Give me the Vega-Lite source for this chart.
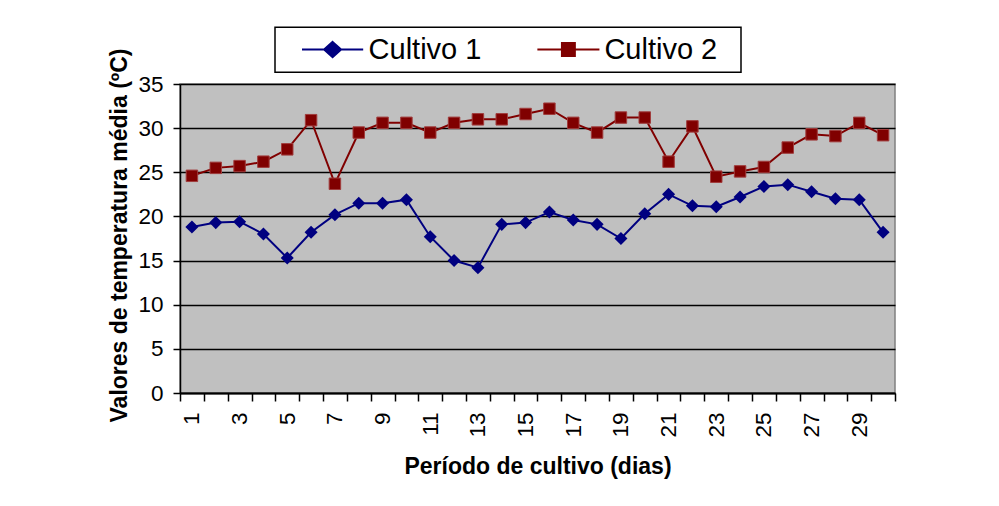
{
  "$schema": "https://vega.github.io/schema/vega-lite/v6.json",
  "width": 715,
  "height": 309,
  "autosize": {"type": "none"},
  "padding": {"left": 180, "top": 84, "right": 104, "bottom": 113},
  "background": "#ffffff",
  "config": {
    "view": {"fill": "#C0C0C0", "stroke": "#808080", "strokeWidth": 1.5},
    "font": "Liberation Sans",
    "axis": {
      "labelFont": "Liberation Sans",
      "titleFont": "Liberation Sans",
      "labelColor": "#000000",
      "titleColor": "#000000",
      "domainColor": "#000000",
      "tickColor": "#000000"
    }
  },
  "datasets": {
    "temps": [
      {"dia": 1, "serie": "Cultivo 1", "temp": 18.8},
      {"dia": 2, "serie": "Cultivo 1", "temp": 19.3},
      {"dia": 3, "serie": "Cultivo 1", "temp": 19.4},
      {"dia": 4, "serie": "Cultivo 1", "temp": 18.0},
      {"dia": 5, "serie": "Cultivo 1", "temp": 15.3},
      {"dia": 6, "serie": "Cultivo 1", "temp": 18.2},
      {"dia": 7, "serie": "Cultivo 1", "temp": 20.2},
      {"dia": 8, "serie": "Cultivo 1", "temp": 21.5},
      {"dia": 9, "serie": "Cultivo 1", "temp": 21.5},
      {"dia": 10, "serie": "Cultivo 1", "temp": 21.9},
      {"dia": 11, "serie": "Cultivo 1", "temp": 17.7},
      {"dia": 12, "serie": "Cultivo 1", "temp": 15.0},
      {"dia": 13, "serie": "Cultivo 1", "temp": 14.2},
      {"dia": 14, "serie": "Cultivo 1", "temp": 19.1},
      {"dia": 15, "serie": "Cultivo 1", "temp": 19.3},
      {"dia": 16, "serie": "Cultivo 1", "temp": 20.5},
      {"dia": 17, "serie": "Cultivo 1", "temp": 19.6},
      {"dia": 18, "serie": "Cultivo 1", "temp": 19.1},
      {"dia": 19, "serie": "Cultivo 1", "temp": 17.5},
      {"dia": 20, "serie": "Cultivo 1", "temp": 20.3},
      {"dia": 21, "serie": "Cultivo 1", "temp": 22.5},
      {"dia": 22, "serie": "Cultivo 1", "temp": 21.2},
      {"dia": 23, "serie": "Cultivo 1", "temp": 21.1},
      {"dia": 24, "serie": "Cultivo 1", "temp": 22.2},
      {"dia": 25, "serie": "Cultivo 1", "temp": 23.4},
      {"dia": 26, "serie": "Cultivo 1", "temp": 23.6},
      {"dia": 27, "serie": "Cultivo 1", "temp": 22.8},
      {"dia": 28, "serie": "Cultivo 1", "temp": 22.0},
      {"dia": 29, "serie": "Cultivo 1", "temp": 21.9},
      {"dia": 30, "serie": "Cultivo 1", "temp": 18.2},
      {"dia": 1, "serie": "Cultivo 2", "temp": 24.6},
      {"dia": 2, "serie": "Cultivo 2", "temp": 25.5},
      {"dia": 3, "serie": "Cultivo 2", "temp": 25.7},
      {"dia": 4, "serie": "Cultivo 2", "temp": 26.2},
      {"dia": 5, "serie": "Cultivo 2", "temp": 27.6},
      {"dia": 6, "serie": "Cultivo 2", "temp": 30.9},
      {"dia": 7, "serie": "Cultivo 2", "temp": 23.7},
      {"dia": 8, "serie": "Cultivo 2", "temp": 29.5},
      {"dia": 9, "serie": "Cultivo 2", "temp": 30.6},
      {"dia": 10, "serie": "Cultivo 2", "temp": 30.6},
      {"dia": 11, "serie": "Cultivo 2", "temp": 29.5},
      {"dia": 12, "serie": "Cultivo 2", "temp": 30.6},
      {"dia": 13, "serie": "Cultivo 2", "temp": 31.0},
      {"dia": 14, "serie": "Cultivo 2", "temp": 31.0},
      {"dia": 15, "serie": "Cultivo 2", "temp": 31.6},
      {"dia": 16, "serie": "Cultivo 2", "temp": 32.2},
      {"dia": 17, "serie": "Cultivo 2", "temp": 30.6},
      {"dia": 18, "serie": "Cultivo 2", "temp": 29.5},
      {"dia": 19, "serie": "Cultivo 2", "temp": 31.2},
      {"dia": 20, "serie": "Cultivo 2", "temp": 31.2},
      {"dia": 21, "serie": "Cultivo 2", "temp": 26.2},
      {"dia": 22, "serie": "Cultivo 2", "temp": 30.2},
      {"dia": 23, "serie": "Cultivo 2", "temp": 24.5},
      {"dia": 24, "serie": "Cultivo 2", "temp": 25.1},
      {"dia": 25, "serie": "Cultivo 2", "temp": 25.6},
      {"dia": 26, "serie": "Cultivo 2", "temp": 27.8},
      {"dia": 27, "serie": "Cultivo 2", "temp": 29.3},
      {"dia": 28, "serie": "Cultivo 2", "temp": 29.1},
      {"dia": 29, "serie": "Cultivo 2", "temp": 30.6},
      {"dia": 30, "serie": "Cultivo 2", "temp": 29.2}
    ]
  },
  "data": {"name": "temps"},
  "encoding": {
    "x": {
      "field": "dia",
      "type": "ordinal",
      "scale": {"type": "band", "paddingInner": 0, "paddingOuter": 0},
      "axis": {
        "title": "Período de cultivo (dias)",
        "titleFontSize": 23,
        "titleFontWeight": "bold",
        "titleBaseline": "alphabetic",
        "titleY": 80,
        "labelAngle": 270,
        "labelAlign": "right",
        "labelBaseline": "middle",
        "labelFontSize": 22.5,
        "labelPadding": 11,
        "labelExpr": "datum.value % 2 === 1 ? datum.label : ''",
        "labelOverlap": false,
        "tickBand": "extent",
        "tickSize": 8,
        "tickWidth": 1.5,
        "domainWidth": 2,
        "grid": false
      }
    },
    "y": {
      "field": "temp",
      "type": "quantitative",
      "scale": {"domain": [0, 35], "nice": false},
      "axis": {
        "title": "Valores de temperatura média (ºC)",
        "titleFontSize": 23,
        "titleFontWeight": "bold",
        "titleAngle": 270,
        "titleBaseline": "alphabetic",
        "titleAlign": "center",
        "titleX": -54,
        "titleY": 151,
        "values": [0, 5, 10, 15, 20, 25, 30, 35],
        "labelFontSize": 22.5,
        "labelPadding": 10,
        "tickSize": 7,
        "tickWidth": 1.5,
        "domainWidth": 1.5,
        "grid": true,
        "gridColor": "#000000",
        "gridWidth": 1.5
      }
    }
  },
  "layer": [
    {
      "mark": {"type": "line", "strokeWidth": 2},
      "encoding": {
        "color": {
          "field": "serie",
          "type": "nominal",
          "scale": {"domain": ["Cultivo 1", "Cultivo 2"], "range": ["#000080", "#800000"]},
          "legend": {
            "title": null,
            "orient": "none",
            "direction": "horizontal",
            "legendX": 95,
            "legendY": -56.7,
            "padding": 7.5,
            "strokeColor": "#000000",
            "fillColor": "#ffffff",
            "labelFont": "Liberation Sans",
            "labelFontSize": 29,
            "labelColor": "#000000",
            "labelLimit": 300,
            "symbolOffset": 35.6,
            "labelOffset": 21.5,
            "columnPadding": 36.8,
            "symbolSize": 289,
            "symbolStrokeWidth": 2,
            "encode": {
              "legend": {
                "update": {"strokeWidth": {"value": 1.5}}
              },
              "symbols": {
                "update": {
                  "shape": {"signal": "datum.value === 'Cultivo 1' ? 'M-5.3,0M-3.6,0L3.6,0M0,-0.9L1,0L0,0.9L-1,0Z' : 'M-5.3,0M-3.65,0L3.65,0M-0.76,-0.76L0.76,-0.76L0.76,0.76L-0.76,0.76ZM18.9,0'"},
                  "fill": {"signal": "datum.value === 'Cultivo 1' ? '#000080' : '#800000'"},
                  "stroke": {"signal": "datum.value === 'Cultivo 1' ? '#000080' : '#800000'"},
                  "strokeWidth": {"value": 2},
                  "opacity": {"value": 1},
                  "fillOpacity": {"value": 1},
                  "strokeOpacity": {"value": 1}
                }
              }
            }
          }
        }
      }
    },
    {
      "transform": [{"filter": "datum.serie === 'Cultivo 1'"}],
      "mark": {"type": "point", "filled": true, "shape": "diamond", "size": 170, "opacity": 1},
      "encoding": {
        "color": {"field": "serie", "type": "nominal"}
      }
    },
    {
      "transform": [{"filter": "datum.serie === 'Cultivo 2'"}],
      "mark": {"type": "point", "filled": true, "shape": "square", "size": 132, "opacity": 1, "stroke": "#a03c3c", "strokeWidth": 1},
      "encoding": {
        "color": {"field": "serie", "type": "nominal"}
      }
    }
  ]
}
